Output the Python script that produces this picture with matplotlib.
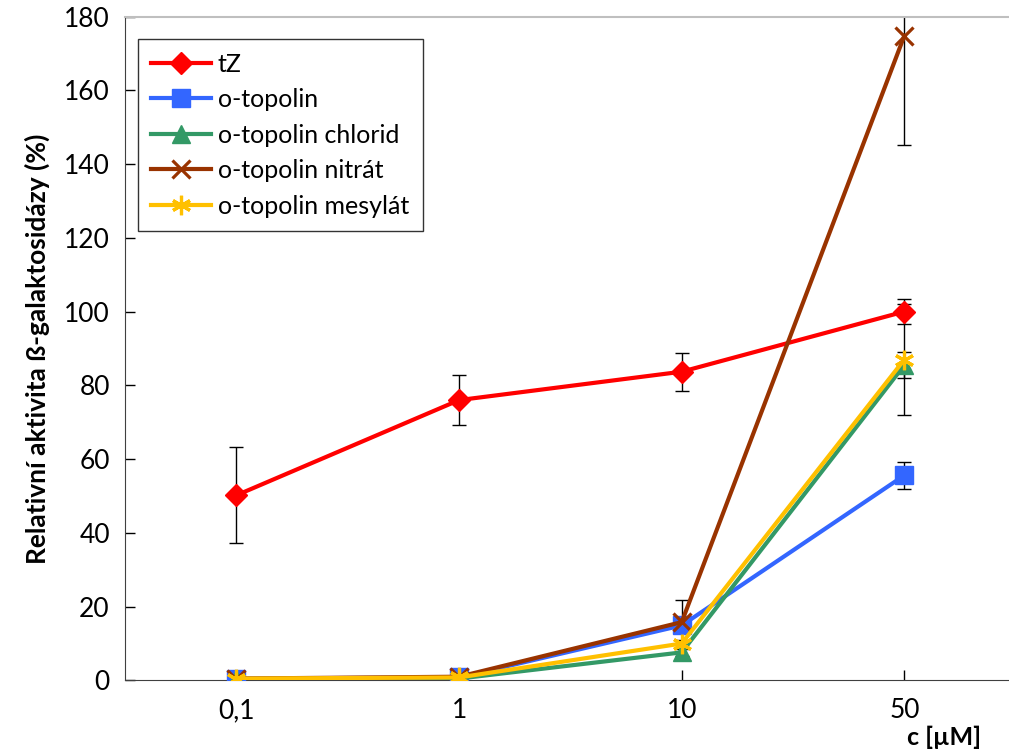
import matplotlib
matplotlib.use("Agg")
import matplotlib.pyplot as plt
import numpy as np

plt.rcParams['font.family'] = ['Lato', 'DejaVu Sans']

concentrations = ["0,1", "1", "10", "50"]

tz = [50.2, 76.0, 83.7, 100.0]
tz_err = [13.0, 6.8, 5.1, 3.3]

otop = [0.5, 0.8, 14.9, 55.6]
otop_err = [0.2, 0.2, 1.5, 3.7]

otop_cl = [0.3, 0.5, 7.6, 85.5]
otop_cl_err = [0.2, 0.2, 1.0, 3.5]

otop_no3 = [0.5, 1.0, 15.8, 174.8]
otop_no3_err = [0.2, 0.2, 6.0, 29.7]

otop_mes = [0.5, 0.8, 10.0, 87.0]
otop_mes_err = [0.2, 0.2, 1.0, 15.0]

series = [
    ("tZ", tz, tz_err, "#FF0000", "D", 11),
    ("o-topolin", otop, otop_err, "#3366FF", "s", 13),
    ("o-topolin chlorid", otop_cl, otop_cl_err, "#339966", "^", 13),
    ("o-topolin nitrát", otop_no3, otop_no3_err, "#993300", "x", 13),
    ("o-topolin mesylát", otop_mes, otop_mes_err, "#FFC000", (6, 2, 0), 14),
]

fig = plt.figure(figsize=(10.09, 7.51), dpi=100)
ax = fig.add_axes([0.124, 0.094, 0.876, 0.884])

x = np.arange(len(concentrations))

# error bars first, then the lines on top
for name, vals, errs, col, mk, ms in series:
    ax.errorbar(x, vals, yerr=errs, fmt='none', ecolor='black', elinewidth=1,
                capsize=5, capthick=1, zorder=2)

for name, vals, errs, col, mk, ms in series:
    mew = 2.3 if mk in ("x",) or isinstance(mk, tuple) else 1
    ax.plot(x, vals, color=col, lw=3, marker=mk, markersize=ms,
            markerfacecolor=col, markeredgecolor=col, markeredgewidth=mew,
            label=name, zorder=3)

ax.set_xlim(-0.5, 3.47)
ax.set_ylim(0, 180)
ax.set_yticks(np.arange(0, 181, 20))
ax.set_xticks(x)
ax.set_xticklabels(concentrations)

ax.tick_params(axis='y', direction='in', length=7, width=1, labelsize=19, pad=11)
ax.tick_params(axis='x', direction='in', length=7, width=1, labelsize=19, pad=13)

ax.spines['top'].set_color('#BFBFBF')
ax.spines['top'].set_linewidth(1.5)
ax.spines['right'].set_visible(False)
ax.spines['left'].set_color('#404040')
ax.spines['bottom'].set_color('#404040')

ax.set_ylabel("Relativní aktivita ß-galaktosidázy (%)", fontsize=19,
              fontweight='bold', labelpad=10)
fig.text(0.936, 0.003, "c [µM]", fontsize=18, fontweight='bold', ha='center',
         va='bottom')

leg = ax.legend(loc='upper left', bbox_to_anchor=(0.0, 0.985), fontsize=18,
                frameon=True, fancybox=False, edgecolor='black',
                handlelength=2.4, handletextpad=0.25, labelspacing=0.5,
                borderpad=0.55)
leg.get_frame().set_linewidth(1)

fig.savefig("out.png", dpi=100)
